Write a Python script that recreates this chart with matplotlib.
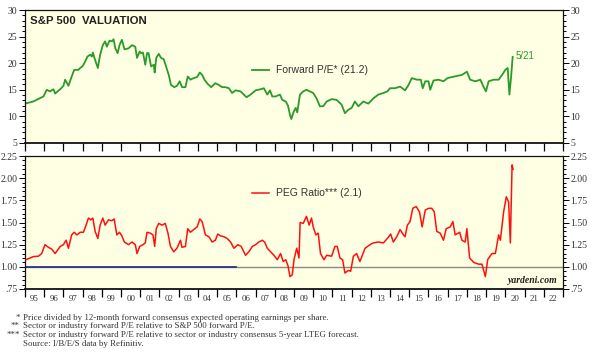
import matplotlib
matplotlib.use('Agg')
from matplotlib import pyplot as plt
from matplotlib.ticker import MultipleLocator, FixedLocator, NullFormatter, FuncFormatter

# Forward P/E
pe_years = [1995.00, 1995.43, 1995.96, 1996.13, 1996.30, 1996.48, 1996.57, 1996.83, 1997.00, 1997.09,
            1997.26, 1997.43, 1997.56, 1997.78, 1997.87, 1997.99, 1998.13, 1998.25, 1998.39, 1998.48,
            1998.53, 1998.65, 1998.79, 1998.91, 1999.05, 1999.17, 1999.26, 1999.40, 1999.52, 1999.61,
            1999.70, 1999.82, 1999.92, 2000.04, 2000.18, 2000.39, 2000.57, 2000.74, 2000.83, 2000.97,
            2001.03, 2001.14, 2001.26, 2001.35, 2001.43, 2001.56, 2001.70, 2001.75, 2001.83, 2001.96,
            2002.08, 2002.22, 2002.34, 2002.48, 2002.60, 2002.77, 2002.91, 2003.05, 2003.17, 2003.35,
            2003.47, 2003.61, 2003.78, 2003.96, 2004.10, 2004.22, 2004.34, 2004.51, 2004.69, 2004.91,
            2005.09, 2005.26, 2005.43, 2005.61, 2005.78, 2005.96, 2006.22, 2006.39, 2006.53, 2006.74,
            2007.00, 2007.26, 2007.43, 2007.61, 2007.75, 2007.87, 2008.04, 2008.27, 2008.39, 2008.57,
            2008.69, 2008.79, 2008.86, 2008.97, 2009.09, 2009.17, 2009.31, 2009.48, 2009.65, 2009.83,
            2010.00, 2010.17, 2010.35, 2010.52, 2010.70, 2010.96, 2011.22, 2011.48, 2011.65, 2011.83,
            2012.00, 2012.17, 2012.35, 2012.61, 2012.87, 2013.13, 2013.39, 2013.65, 2013.86, 2014.00,
            2014.26, 2014.52, 2014.78, 2014.96, 2015.13, 2015.39, 2015.60, 2015.70, 2015.83, 2016.00,
            2016.09, 2016.26, 2016.52, 2016.78, 2016.99, 2017.22, 2017.48, 2017.74, 2018.00, 2018.17,
            2018.43, 2018.70, 2018.87, 2018.99, 2019.13, 2019.39, 2019.65, 2019.83, 2020.00, 2020.12,
            2020.21, 2020.30, 2020.38]
pe_values = [12.4, 12.8, 13.75, 15.0, 14.7, 15.1, 14.3, 15.1, 15.75, 16.9,
             15.75, 17.5, 18.75, 18.75, 19.1, 19.4, 20.3, 21.25, 21.6, 21.25,
             22.0, 20.6, 19.1, 21.6, 23.4, 24.1, 23.1, 24.25, 24.1, 24.5,
             22.8, 21.9, 23.4, 24.4, 22.6, 22.8, 23.4, 23.1, 21.0, 22.2,
             21.9, 22.0, 19.7, 21.9, 21.9, 19.4, 19.7, 18.25, 21.0, 21.75,
             21.0, 20.75, 19.4, 17.8, 15.9, 15.5, 15.75, 16.6, 15.5, 15.5,
             17.5, 16.9, 17.2, 17.4, 18.25, 17.8, 16.9, 16.1, 15.5, 16.25,
             15.9, 15.5, 15.5, 15.3, 14.4, 14.9, 14.7, 14.1, 13.6, 14.1,
             14.9, 15.1, 15.3, 14.1, 14.9, 13.75, 13.75, 14.1, 13.1, 12.8,
             12.0, 10.3, 9.5, 10.75, 11.6, 10.75, 14.1, 14.7, 15.0, 14.7,
             14.4, 13.4, 11.9, 11.9, 12.8, 13.25, 13.1, 12.2, 10.6, 11.25,
             11.6, 12.8, 11.9, 12.8, 12.4, 13.4, 14.1, 14.4, 14.7, 15.3,
             15.3, 15.6, 14.9, 15.9, 17.2, 16.9, 16.9, 15.3, 16.6, 16.6,
             15.0, 16.75, 16.9, 16.6, 17.2, 17.4, 17.6, 17.8, 18.4, 16.9,
             16.6, 16.9, 15.5, 14.7, 16.6, 16.9, 16.9, 17.8, 18.75, 19.1,
             14.1, 17.5, 21.2]

# PEG ratio
peg_years = [1995.05, 1995.43, 1995.70, 1995.87, 1996.04, 1996.22, 1996.39, 1996.57, 1996.83, 1997.00,
             1997.14, 1997.26, 1997.43, 1997.56, 1997.70, 1997.87, 1998.04, 1998.18, 1998.30, 1998.43,
             1998.53, 1998.65, 1998.79, 1998.91, 1999.05, 1999.17, 1999.35, 1999.52, 1999.64, 1999.78,
             1999.92, 2000.04, 2000.17, 2000.39, 2000.57, 2000.74, 2000.83, 2000.97, 2001.14, 2001.26,
             2001.35, 2001.52, 2001.66, 2001.75, 2001.83, 2001.96, 2002.13, 2002.30, 2002.44, 2002.57,
             2002.74, 2002.91, 2003.09, 2003.17, 2003.35, 2003.47, 2003.61, 2003.78, 2003.96, 2004.10,
             2004.22, 2004.39, 2004.57, 2004.74, 2004.91, 2005.03, 2005.17, 2005.35, 2005.52, 2005.70,
             2005.87, 2006.08, 2006.25, 2006.48, 2006.65, 2006.83, 2007.00, 2007.17, 2007.35, 2007.47,
             2007.61, 2007.78, 2007.96, 2008.13, 2008.30, 2008.44, 2008.57, 2008.69, 2008.79, 2008.91,
             2009.00, 2009.14, 2009.26, 2009.32, 2009.48, 2009.65, 2009.79, 2009.91, 2010.00, 2010.14,
             2010.26, 2010.38, 2010.56, 2010.70, 2010.96, 2011.13, 2011.25, 2011.39, 2011.53, 2011.65,
             2011.83, 2011.95, 2012.09, 2012.26, 2012.43, 2012.70, 2012.96, 2013.13, 2013.39, 2013.65,
             2013.86, 2014.03, 2014.17, 2014.35, 2014.52, 2014.70, 2014.78, 2014.90, 2015.04, 2015.18,
             2015.36, 2015.53, 2015.67, 2015.83, 2016.00, 2016.17, 2016.30, 2016.43, 2016.61, 2016.78,
             2016.92, 2017.13, 2017.27, 2017.39, 2017.62, 2017.74, 2017.91, 2018.00, 2018.14, 2018.35,
             2018.61, 2018.78, 2018.96, 2019.08, 2019.30, 2019.48, 2019.65, 2019.74, 2019.91, 2020.05,
             2020.17, 2020.26, 2020.35, 2020.40]
peg_values = [1.08, 1.115, 1.12, 1.15, 1.25, 1.22, 1.20, 1.15, 1.23, 1.25,
              1.30, 1.21, 1.36, 1.39, 1.36, 1.39, 1.39, 1.47, 1.55, 1.53,
              1.55, 1.40, 1.32, 1.47, 1.55, 1.47, 1.53, 1.52, 1.54, 1.36,
              1.39, 1.35, 1.28, 1.25, 1.28, 1.25, 1.15, 1.23, 1.25, 1.27,
              1.39, 1.38, 1.36, 1.23, 1.43, 1.49, 1.47, 1.49, 1.38, 1.23,
              1.17, 1.21, 1.30, 1.22, 1.23, 1.43, 1.39, 1.42, 1.45, 1.54,
              1.51, 1.36, 1.34, 1.28, 1.30, 1.37, 1.35, 1.34, 1.32, 1.28,
              1.21, 1.25, 1.23, 1.13, 1.17, 1.23, 1.25, 1.28, 1.30, 1.28,
              1.21, 1.17, 1.13, 1.08, 1.15, 1.06, 1.08, 1.01, 0.89, 0.91,
              1.08, 1.21, 1.10, 1.50, 1.49, 1.57, 1.47, 1.55, 1.45, 1.36,
              1.38, 1.15, 1.08, 1.13, 1.12, 1.23, 1.23, 1.10, 1.08, 0.93,
              0.96, 0.95, 1.12, 1.15, 1.06, 1.21, 1.25, 1.27, 1.28, 1.27,
              1.32, 1.37, 1.28, 1.34, 1.42, 1.36, 1.34, 1.47, 1.51, 1.66,
              1.68, 1.62, 1.45, 1.64, 1.66, 1.66, 1.62, 1.40, 1.38, 1.30,
              1.43, 1.45, 1.51, 1.36, 1.39, 1.30, 1.28, 1.43, 1.10, 1.05,
              1.03, 1.03, 0.89, 1.08, 1.15, 1.15, 1.36, 1.30, 1.62, 1.79,
              1.73, 1.27, 2.15, 2.10]

year_ticks = list(range(1995, 2024))
year_labels = ['%02d' % (y % 100) for y in range(1995, 2023)]
blue_line_end = 2006.0

footnotes = [
    ('*', 'Price divided by 12-month forward consensus expected operating earnings per share.'),
    ('**', 'Sector or industry forward P/E relative to S&P 500 forward P/E.'),
    ('***', 'Sector or industry forward P/E relative to sector or industry consensus 5-year LTEG forecast.'),
    ('', 'Source: I/B/E/S data by Refinitiv.'),
]

BG = '#FFFFE3'
SERIF = 'Liberation Serif'
SANS = 'Liberation Sans'
GREEN = '#2A9A2A'
RED = '#FF1010'

fig = plt.figure(figsize=(5.99, 3.55), dpi=100)
ax1 = fig.add_axes([25 / 599, 1 - 143 / 355, 538 / 599, 133 / 355])
ax2 = fig.add_axes([25 / 599, 1 - 289 / 355, 538 / 599, 133 / 355])


def style_axis(ax, ymin, ymax, major, minor, fmt):
    ax.set_facecolor(BG)
    ax.set_xlim(1995, 2023)
    ax.set_ylim(ymin, ymax)
    for s in ax.spines.values():
        s.set_linewidth(0.9)
        s.set_color('#111111')
    ax.spines['bottom'].set_linewidth(1.3)
    ax.xaxis.set_major_locator(FixedLocator(year_ticks))
    ax.xaxis.set_major_formatter(NullFormatter())
    ax.tick_params(axis='x', which='major', direction='out', length=6, width=0.9, top=False)
    ax.yaxis.set_major_locator(MultipleLocator(major))
    ax.yaxis.set_minor_locator(MultipleLocator(minor))
    ax.yaxis.set_major_formatter(FuncFormatter(fmt))
    ax.tick_params(axis='y', which='both', direction='out', left=True, right=True,
                   labelleft=True, labelright=True, labelsize=7, pad=1.5, width=0.7)
    ax.tick_params(axis='y', which='major', length=4)
    ax.tick_params(axis='y', which='minor', length=2)
    for lbl in ax.get_yticklabels():
        lbl.set_fontfamily(SERIF)
        lbl.set_color('#333333')


style_axis(ax1, 5, 30, 5, 1, lambda v, p: '%d' % v)


def peg_fmt(v, p):
    s = '%.2f' % v
    return s[1:] if s.startswith('0') else s


style_axis(ax2, 0.75, 2.25, 0.25, 0.05, peg_fmt)

# top panel
ax1.plot(pe_years, pe_values, color=GREEN, lw=1.3)
ax1.text(0.01, 0.955, 'S&P 500  VALUATION', transform=ax1.transAxes, fontsize=8.2,
         fontweight='bold', family=SANS, va='top', ha='left', color='#222222')
ax1.plot([2006.8, 2007.7], [18.75, 18.75], color=GREEN, lw=1.3)
ax1.text(2008.05, 18.75, 'Forward P/E* (21.2)', fontsize=7.5, family=SANS, va='center',
         color='#333333')
ax1.text(2020.55, 21.3, '5/21', fontsize=7, family=SANS, color=GREEN, va='center')

# bottom panel
ax2.axhline(1.0, color='#8A8A80', lw=1.0, zorder=1)
ax2.plot([1995, blue_line_end], [1.0, 1.0], color='#303090', lw=1.3, zorder=2)
ax2.plot(peg_years, peg_values, color=RED, lw=1.1, zorder=3)
ax2.plot([2006.8, 2007.7], [1.83, 1.83], color=RED, lw=1.1)
ax2.text(2008.05, 1.83, 'PEG Ratio*** (2.1)', fontsize=7.5, family=SANS, va='center',
         color='#333333')
ax2.text(0.99, 0.03, 'yardeni.com', transform=ax2.transAxes, fontsize=7, family=SERIF,
         fontweight='bold', style='italic', ha='right', va='bottom', color='#222222')

for i, lab in enumerate(year_labels):
    ax2.text(1995.5 + i, -0.045, lab, transform=ax2.get_xaxis_transform(), fontsize=6.3,
             family=SERIF, ha='center', va='top', color='#333333')

y0 = 1 - 317.5 / 355
for i, (mark, txt) in enumerate(footnotes):
    yy = y0 - i * 8.8 / 355
    fig.text(20 / 599, yy, mark, fontsize=6.4, family=SERIF, ha='right', va='center', color='#333333')
    fig.text(23 / 599, yy, txt, fontsize=6.4, family=SERIF, ha='left', va='center', color='#333333')

plt.savefig('out.png', dpi=100, facecolor='white')
